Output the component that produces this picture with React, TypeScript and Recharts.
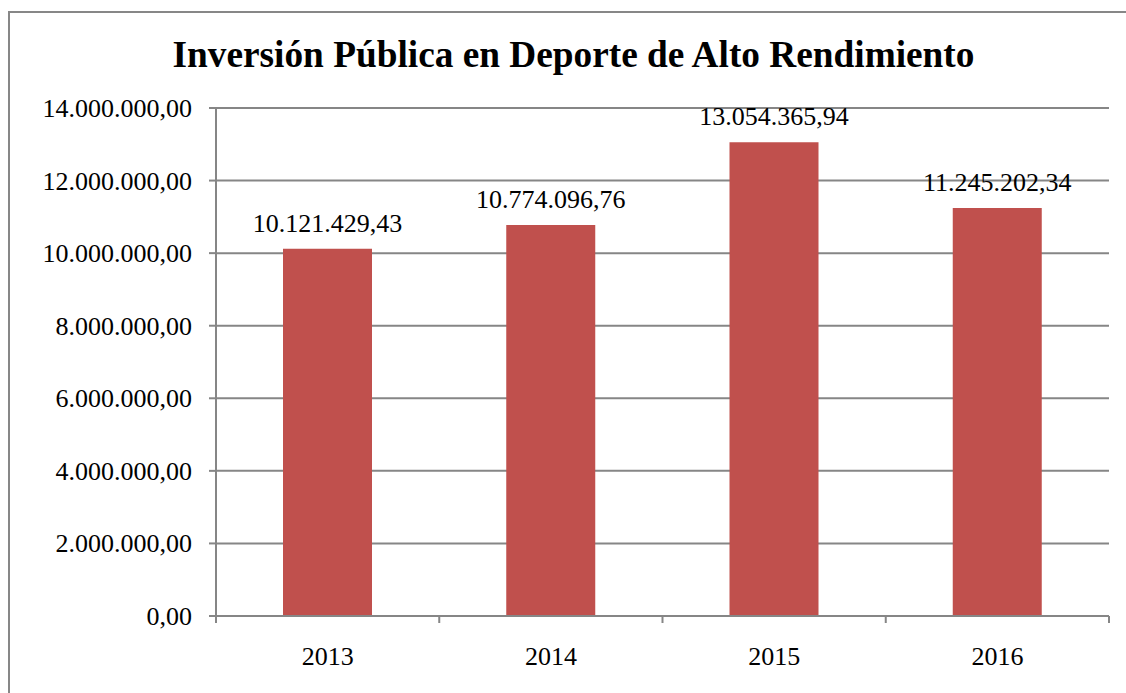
import { BarChart, Bar, XAxis, YAxis, CartesianGrid, LabelList } from "recharts";

// Inversión pública en deporte de alto rendimiento, por año
const years = ["2013", "2014", "2015", "2016"];
const amounts = [10121429.43, 10774096.76, 13054365.94, 11245202.34];
const yTicks = [0, 2000000, 4000000, 6000000, 8000000, 10000000, 12000000, 14000000];

const W = 1126;
const H = 693;
const MARGIN = { top: 108, right: 17, bottom: 0, left: 0 };
const Y_AXIS_W = 216;
const X_AXIS_H = 77;
const BAND = (W - MARGIN.left - MARGIN.right - Y_AXIS_W) / years.length;
const GRID = "#868686";
const FONT = "Liberation Serif, Times New Roman, serif";
const TEXT_STYLE = { fontFamily: FONT, fontSize: 26 };

const data = years.map((year, i) => ({ year, value: amounts[i] }));

// 10121429.43 -> "10.121.429,43"
function fmt(v: number) {
  const [int, dec] = v.toFixed(2).split(".");
  return int.replace(/\B(?=(\d{3})+(?!\d))/g, ".") + "," + dec;
}

// category labels, with Excel-style ticks on the band edges
function YearTick(props: any) {
  const { x, y, payload, index } = props;
  const last = index === years.length - 1;
  return (
    <g>
      <line x1={x - BAND / 2} x2={x - BAND / 2} y1={y} y2={y + 7} stroke={GRID} strokeWidth={2} />
      {last && <line x1={x + BAND / 2} x2={x + BAND / 2} y1={y} y2={y + 7} stroke={GRID} strokeWidth={2} />}
      <text x={x} y={y + 49} textAnchor="middle" style={TEXT_STYLE} fill="#000">
        {payload.value}
      </text>
    </g>
  );
}

function AmountTick(props: any) {
  const { x, y, payload } = props;
  return (
    <text x={x} y={y} dy={9} textAnchor="end" style={TEXT_STYLE} fill="#000">
      {fmt(payload.value)}
    </text>
  );
}

function BarValue(props: any) {
  const { x, y, width, value } = props;
  return (
    <text x={x + width / 2} y={y - 17} textAnchor="middle" style={TEXT_STYLE} fill="#000">
      {fmt(Number(value))}
    </text>
  );
}

export default function App() {
  return (
    <div style={{ position: "fixed", left: 0, top: 0, width: W, height: H, overflow: "hidden", background: "#fff", fontFamily: FONT }}>
      <div
        style={{
          position: "absolute", left: 8, top: 11, width: 1200, height: 800,
          border: "2px solid #878787",
        }}
      />
      <div
        style={{
          position: "absolute", left: 0, top: 33, width: 1147, textAlign: "center",
          fontFamily: FONT, fontWeight: "bold", fontSize: 37.3, color: "#000", lineHeight: "44px",
        }}
      >
        Inversión Pública en Deporte de Alto Rendimiento
      </div>
      <div style={{ position: "absolute", left: 0, top: 0 }}>
        <BarChart width={W} height={H} data={data} margin={MARGIN} barCategoryGap={0}>
          <CartesianGrid vertical={false} stroke={GRID} strokeWidth={2} />
          <XAxis
            dataKey="year"
            height={X_AXIS_H}
            tickSize={0}
            tickMargin={0}
            tickLine={false}
            axisLine={{ stroke: GRID, strokeWidth: 2 }}
            tick={<YearTick />}
            interval={0}
          />
          <YAxis
            width={Y_AXIS_W}
            domain={[0, 14000000]}
            ticks={yTicks}
            interval={0}
            tickSize={7}
            tickMargin={17}
            axisLine={{ stroke: GRID, strokeWidth: 2 }}
            tickLine={{ stroke: GRID, strokeWidth: 2 }}
            tick={<AmountTick />}
          />
          <Bar dataKey="value" fill="#C0504D" barSize={89} isAnimationActive={false}>
            <LabelList dataKey="value" content={<BarValue />} />
          </Bar>
        </BarChart>
      </div>
    </div>
  );
}
